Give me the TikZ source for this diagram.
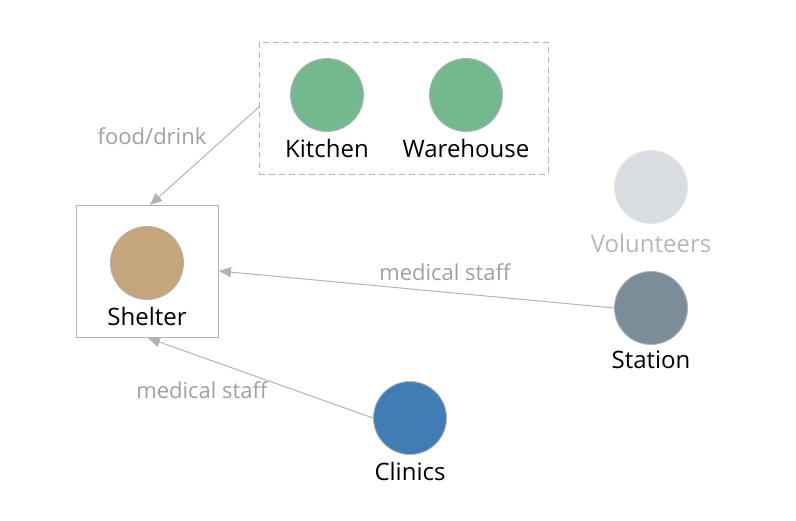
\documentclass[tikz,border=0pt]{standalone}
\usepackage{fontspec}
\setmainfont{Open Sans}
\usetikzlibrary{arrows.meta}
\definecolor{edgec}{HTML}{B3B3B3}
\definecolor{labc}{HTML}{A0A0A0}
\definecolor{greenc}{HTML}{74B98E}
\definecolor{tanc}{HTML}{C4A57C}
\definecolor{volc}{HTML}{D9DDE1}
\definecolor{statc}{HTML}{7B8D99}
\definecolor{clinc}{HTML}{417DB5}
\begin{document}
\begin{tikzpicture}[x=1pt,y=-1pt,
  dot/.style={circle,minimum size=73pt,inner sep=0pt,draw=edgec,line width=0.9pt},
  nlab/.style={font=\fontsize{24}{28}\selectfont,text=black},
  elab/.style={font=\fontsize{22}{26}\selectfont,text=labc},
  conn/.style={draw=edgec,line width=1pt,-{Triangle[length=12pt,width=10pt]}}]
\useasboundingbox (0,0) rectangle (796,520);
% group boxes
\node[draw=edgec,dash pattern=on 6pt off 4pt,line width=1pt,minimum width=289pt,minimum height=132pt,inner sep=0pt] (grp) at (403.5,108) {};
\node[draw=edgec,line width=1pt,minimum width=142pt,minimum height=132pt,inner sep=0pt] (shbox) at (147,271) {};
% nodes
\node[dot,fill=greenc] (kitchen) at (327,95) {};
\node[nlab] (kitchenl) at (327,148) {Kitchen};
\node[dot,fill=greenc] (warehouse) at (466,95) {};
\node[nlab] (warehousel) at (466,148) {Warehouse};
\node[dot,fill=tanc] (shelter) at (147,263) {};
\node[nlab] (shelterl) at (147,316) {Shelter};
\node[dot,fill=volc,draw=volc!70!white] (vol) at (651,187) {};
\node[nlab,text=volc!60!gray] (voll) at (651,243) {Volunteers};
\node[dot,fill=statc] (station) at (651,308) {};
\node[nlab] (stationl) at (651,360) {Station};
\node[dot,fill=clinc] (clinics) at (410,418) {};
\node[nlab] (clinicsl) at (410,471) {Clinics};
% edges
\coordinate (g1) at (259,107);
\coordinate (s1) at (150,205);
\coordinate (s2) at (219,271);
\coordinate (s3) at (148,338);
\draw[conn] (g1) -- (s1);
\draw[conn] (station.west) -- (s2);
\draw[conn] (clinics.west) -- (s3);
\node[elab] (l1) at (152,136) {food/drink};
\node[elab] (l2) at (445,272) {medical staff};
\node[elab] (l3) at (202,390) {medical staff};
\end{tikzpicture}
\end{document}
